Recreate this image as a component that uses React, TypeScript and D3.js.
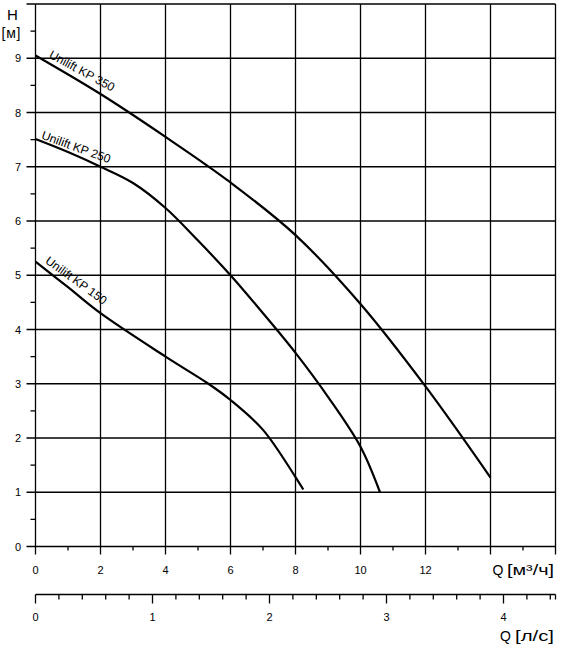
import * as d3 from 'd3';

// pump curves, Q [m3/h] vs H [m]
const KP350 = [
  [0, 9.05], [2, 8.34], [4, 7.55], [6, 6.71], [8, 5.74], [10, 4.47], [12, 2.95], [14, 1.27],
];
const KP250 = [
  [0, 7.51], [1, 7.27], [2, 7.0], [3, 6.7], [4, 6.24], [5, 5.64], [6, 5.0], [7, 4.3],
  [8, 3.57], [9, 2.76], [10, 1.84], [10.6, 1.0],
];
const KP150 = [
  [0, 5.25], [1, 4.78], [2, 4.3], [4, 3.5], [5.32, 3.0], [6, 2.7], [7, 2.15], [8, 1.28], [8.24, 1.05],
];
const CURVES = [
  { name: 'Unilift KP 350', data: KP350, label: [0.39, 9.02], angle: 28.5 },
  { name: 'Unilift KP 250', data: KP250, label: [0.16, 7.52], angle: 20 },
  { name: 'Unilift KP 150', data: KP150, label: [0.28, 5.235], angle: 36 },
];

const Q_MAX = 16;
const H_MAX = 10;
const M3H_PER_LS = 3.6;
const H_TICKS = [0, 1, 2, 3, 4, 5, 6, 7, 8, 9];
const Q_TICKS = [0, 2, 4, 6, 8, 10, 12];
const LS_TICKS = [0, 1, 2, 3, 4];

const W = 563;
const H = 647;
const FONT = '"Liberation Sans", Arial, Helvetica, sans-serif';

export default function App() {
  const x = d3.scaleLinear().domain([0, Q_MAX]).range([35.5, 555.5]);
  const y = d3.scaleLinear().domain([0, H_MAX]).range([546.5, 4]);
  const xl = d3.scaleLinear().domain([0, Q_MAX / M3H_PER_LS]).range([35.5, 555.5]);
  const axis2Y = 594.5;

  const line = d3.line<number[]>()
    .x((d) => x(d[0])).y((d) => y(d[1]))
    .curve(d3.curveCatmullRom.alpha(0.5));

  const qGrid = d3.range(0, Q_MAX + 0.01, 2);
  const qMinor = d3.range(1, Q_MAX, 2);
  const hGrid = d3.range(1, H_MAX + 0.01, 1);
  const hMinor = d3.range(0.5, H_MAX, 1);
  const lsMinor = d3.range(0, Q_MAX / M3H_PER_LS + 0.001, 0.2);

  return (
    <svg width={W} height={H} style={{ position: 'absolute', left: 0, top: 0, background: '#fff' }}
      fontFamily={FONT}>
      {/* grid */}
      <g stroke="#000" strokeWidth={1.3}>
        {qGrid.map((q) => (
          <line key={'vg' + q} x1={x(q)} x2={x(q)} y1={y(H_MAX)} y2={y(0) + 8} />
        ))}
        {hGrid.map((h) => (
          <line key={'hg' + h} x1={x(0) - 9} x2={x(Q_MAX)} y1={y(h)} y2={y(h)} />
        ))}
        <line x1={x(0) - 9} x2={x(Q_MAX)} y1={y(0)} y2={y(0)} />
        {qMinor.map((q) => (
          <line key={'qm' + q} x1={x(q)} x2={x(q)} y1={y(0)} y2={y(0) + 4} />
        ))}
        {hMinor.map((h) => (
          <line key={'hm' + h} x1={x(0) - 5} x2={x(0)} y1={y(h)} y2={y(h)} />
        ))}
      </g>

      {/* second axis, l/s */}
      <g stroke="#000" strokeWidth={1.3}>
        <line x1={xl(0)} x2={xl(Q_MAX / M3H_PER_LS)} y1={axis2Y} y2={axis2Y} />
        {lsMinor.map((v) => {
          const major = Math.abs(v - Math.round(v)) < 1e-6;
          return <line key={'ls' + v} x1={xl(v)} x2={xl(v)} y1={axis2Y} y2={axis2Y + (major ? 9 : 5)} />;
        })}
        <line x1={xl(Q_MAX / M3H_PER_LS)} x2={xl(Q_MAX / M3H_PER_LS)} y1={axis2Y} y2={axis2Y + 5} />
      </g>

      {/* curves */}
      {CURVES.map((c) => (
        <path key={c.name} d={line(c.data) ?? ''} fill="none" stroke="#000" strokeWidth={2.2} />
      ))}
      {CURVES.map((c) => (
        <text key={'l' + c.name} fontSize={12}
          transform={`translate(${x(c.label[0])},${y(c.label[1])}) rotate(${c.angle})`}>
          {c.name}
        </text>
      ))}

      {/* tick labels */}
      <g fontSize={11} fill="#000">
        {H_TICKS.map((h) => (
          <text key={'hl' + h} x={21} y={y(h) + 4} textAnchor="end">{h}</text>
        ))}
        {Q_TICKS.map((q) => (
          <text key={'ql' + q} x={x(q)} y={574} textAnchor="middle">{q}</text>
        ))}
        {LS_TICKS.map((v) => (
          <text key={'lsl' + v} x={xl(v)} y={620.5} textAnchor="middle">{v}</text>
        ))}
      </g>

      {/* axis titles */}
      <text x={7} y={19.5} fontSize={15}>H</text>
      <text x={1.5} y={37.5} fontSize={14} textLength={19} lengthAdjust="spacing">[м]</text>
      <text x={492.5} y={575} fontSize={14}>Q</text>
      <text x={507} y={575} fontSize={14} textLength={47} lengthAdjust="spacingAndGlyphs">[м³/ч]</text>
      <text x={500} y={640.5} fontSize={14}>Q</text>
      <text x={515} y={640.5} fontSize={14} textLength={39} lengthAdjust="spacingAndGlyphs">[л/с]</text>
    </svg>
  );
}
